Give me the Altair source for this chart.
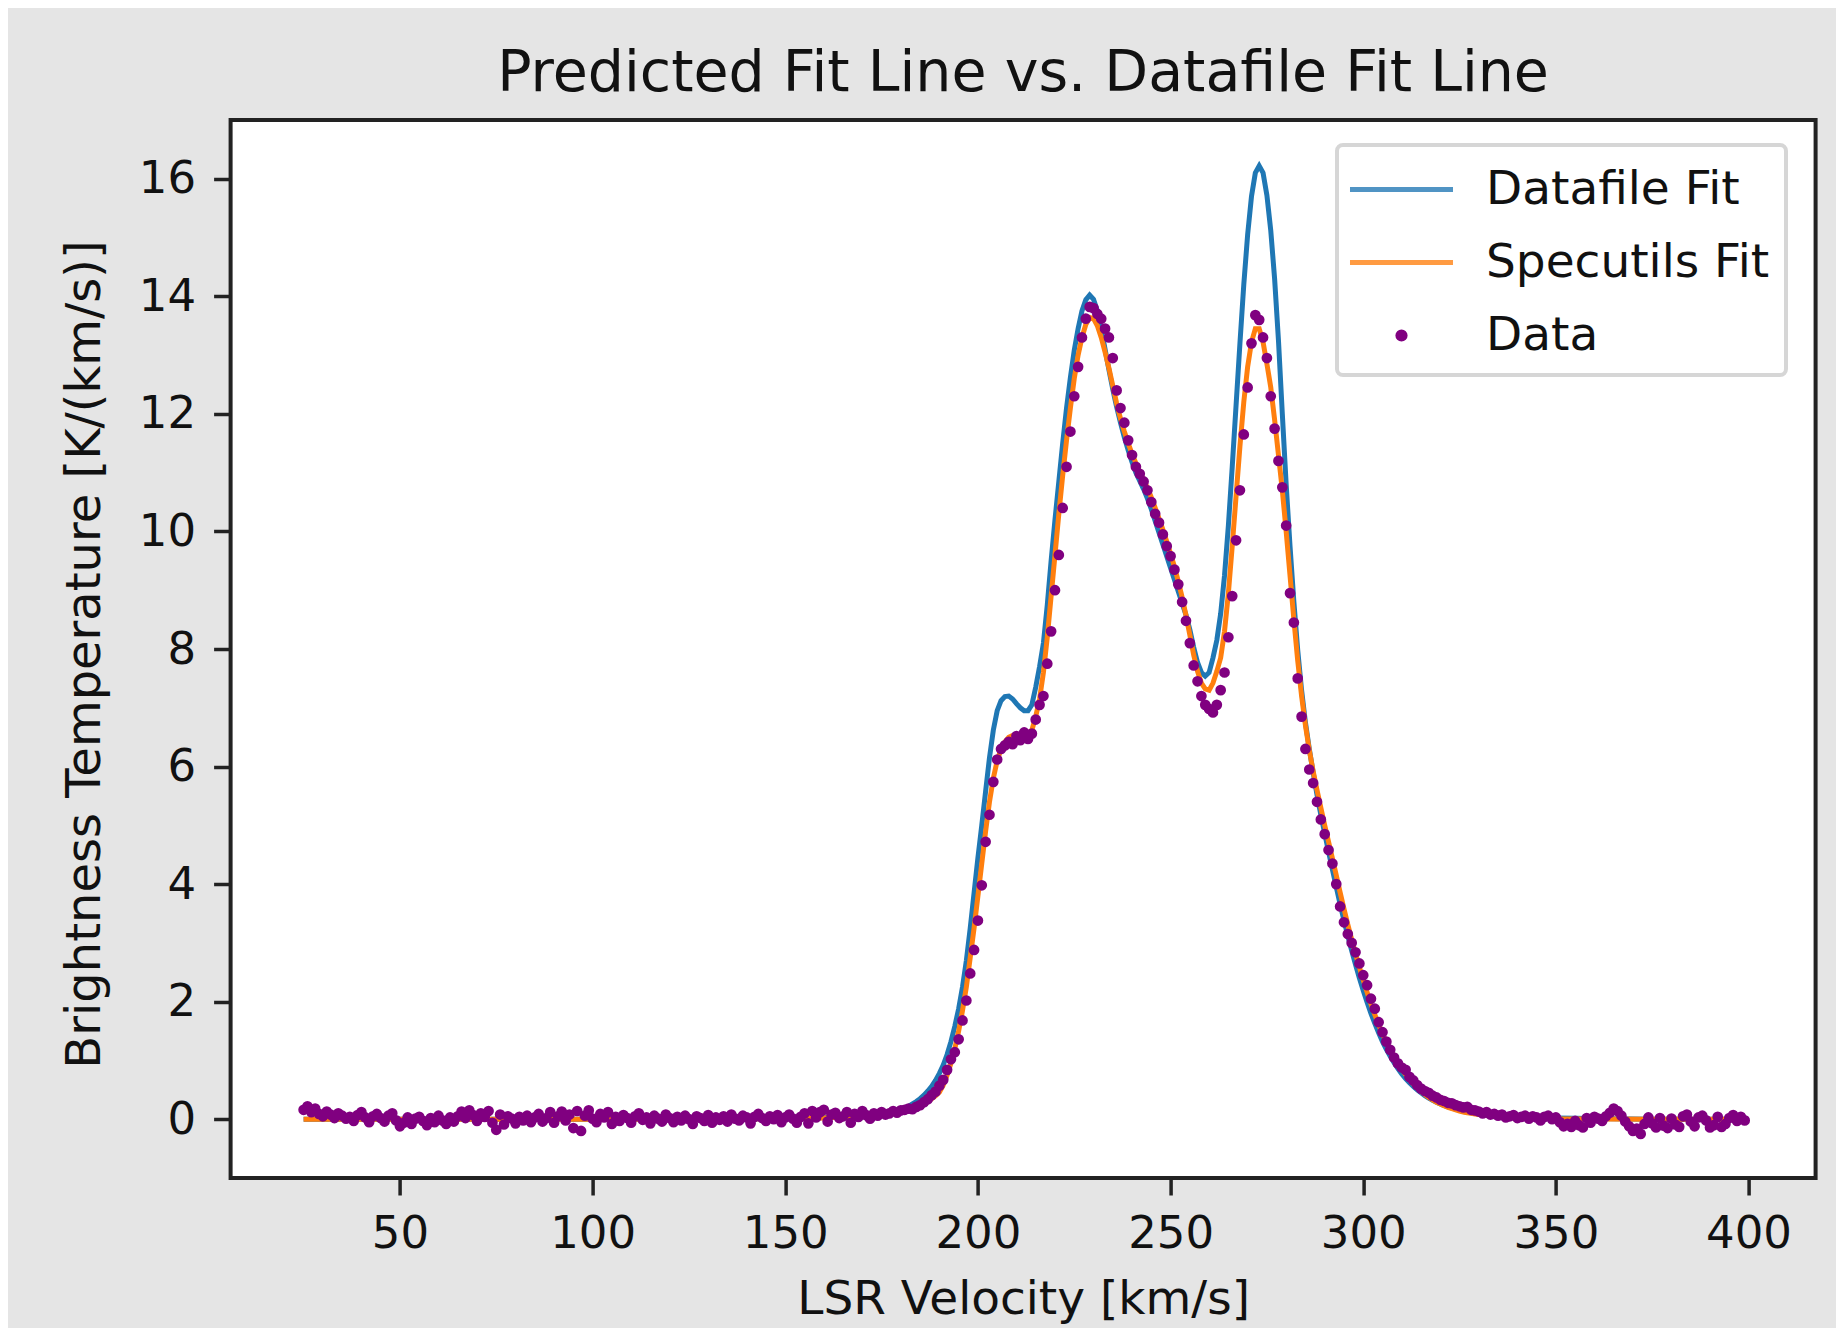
import altair as alt
import pandas as pd

FONT = "DejaVu Sans"

# ---------------- data ----------------
# channel velocities of the measured spectrum [km/s]
velocity = list(range(25, 400))

# measured brightness temperature for each channel
data_T = [
    0.16, 0.22, 0.12, 0.18, 0.09, 0.05, 0.13, 0.08, 0.02, 0.10,      # 25-34
    0.06, 0.01, 0.04, -0.03, 0.07, 0.12, 0.03, -0.05, 0.05, 0.09,    # 35-44
    0.02, -0.04, 0.06, 0.10, -0.02, -0.12, -0.06, 0.03, -0.08, 0.01, # 45-54
    0.04, -0.03, -0.10, 0.02, -0.05, 0.06, -0.02, -0.08, 0.03, -0.04,# 55-64
    0.05, 0.13, 0.02, 0.15, 0.07, -0.03, 0.10, 0.04, 0.14, -0.06,    # 65-74
    -0.18, 0.08, -0.09, 0.05, 0.01, -0.07, 0.04, -0.02, 0.06, -0.05, # 75-84
    0.03, 0.09, -0.04, 0.02, 0.12, -0.06, 0.05, 0.13, -0.02, 0.08,   # 85-94
    -0.15, 0.14, -0.20, 0.06, 0.15, 0.01, -0.05, 0.09, 0.03, 0.12,   # 95-104
    -0.08, 0.04, -0.03, 0.07, 0.02, -0.06, 0.05, 0.10, -0.01, 0.03,  # 105-114
    -0.07, 0.06, 0.01, -0.04, 0.08, 0.02, -0.05, 0.04, -0.02, 0.06,  # 115-124
    0.00, -0.08, 0.05, 0.02, -0.03, 0.07, -0.06, 0.03, -0.01, 0.05,  # 125-134
    -0.04, 0.08, 0.01, -0.02, 0.06, 0.03, -0.07, 0.04, 0.09, 0.02,   # 135-144
    -0.03, 0.05, 0.00, 0.07, -0.05, 0.03, 0.08, 0.01, -0.06, 0.04,   # 145-154
    0.10, -0.07, 0.14, 0.03, 0.12, 0.16, -0.04, 0.08, 0.11, 0.02,    # 155-164
    0.05, 0.12, -0.06, 0.09, 0.04, 0.14, 0.07, 0.01, 0.10, 0.06,     # 165-174
    0.12, 0.08, 0.10, 0.14, 0.11, 0.15, 0.16, 0.18, 0.17, 0.21,      # 175-184
    0.24, 0.29, 0.34, 0.41, 0.47, 0.57, 0.67, 0.84, 1.02, 1.14,      # 185-194
    1.36, 1.68, 2.02, 2.48, 2.88, 3.38, 3.98, 4.72, 5.18, 5.74,      # 195-204
    6.12, 6.30, 6.36, 6.42, 6.38, 6.52, 6.45, 6.58, 6.47, 6.56,      # 205-214
    6.80, 7.05, 7.20, 7.75, 8.30, 9.00, 9.60, 10.40, 11.10, 11.70,   # 215-224
    12.30, 12.80, 13.30, 13.62, 13.82, 13.80, 13.70, 13.62, 13.45, 13.30,  # 225-234
    12.95, 12.40, 12.10, 11.85, 11.55, 11.30, 11.10, 10.98, 10.85, 10.70,  # 235-244
    10.50, 10.30, 10.15, 9.95, 9.75, 9.58, 9.35, 9.10, 8.80, 8.48,   # 245-254
    8.10, 7.72, 7.45, 7.20, 7.05, 6.98, 6.92, 7.05, 7.30, 7.60,      # 255-264
    8.20, 8.90, 9.85, 10.70, 11.65, 12.45, 13.20, 13.68, 13.60, 13.30,  # 265-274
    12.95, 12.30, 11.75, 11.20, 10.75, 10.10, 8.95, 8.45, 7.50, 6.85,   # 275-284
    6.30, 5.95, 5.72, 5.40, 5.10, 4.85, 4.58, 4.35, 4.00, 3.62,      # 285-294
    3.35, 3.15, 3.00, 2.84, 2.65, 2.45, 2.28, 2.05, 1.88, 1.65,      # 295-304
    1.48, 1.32, 1.18, 1.05, 0.95, 0.88, 0.84, 0.72, 0.66, 0.58,      # 305-314
    0.52, 0.48, 0.45, 0.40, 0.37, 0.33, 0.31, 0.28, 0.27, 0.24,      # 315-324
    0.22, 0.20, 0.21, 0.16, 0.15, 0.13, 0.10, 0.12, 0.08, 0.09,      # 325-334
    0.06, 0.08, 0.03, 0.05, 0.07, 0.02, 0.04, 0.06, 0.01, 0.05,      # 335-344
    0.03, -0.02, 0.04, 0.06, 0.00, 0.03, -0.05, -0.12, -0.08, -0.13, # 345-354
    -0.03, -0.10, -0.14, 0.02, -0.06, 0.04, 0.01, -0.03, 0.05, 0.11, # 355-364
    0.18, 0.14, 0.06, -0.04, -0.12, -0.20, -0.16, -0.25, -0.08, 0.03,# 365-374
    -0.07, -0.14, 0.02, -0.11, -0.15, 0.01, -0.09, -0.13, 0.05, 0.08,# 375-384
    -0.04, -0.12, 0.03, 0.06, -0.02, -0.14, -0.10, 0.04, -0.13, -0.08,  # 385-394
    0.02, 0.07, -0.03, 0.04, -0.02,                                  # 395-399
]

# velocities at which the two fitted curves are sampled
fit_velocity = [25, 50, 75, 100, 125, 150, 160, 170, 175, 180] + list(range(181, 331)) + [340, 350, 375, 399]

datafile_fit = [
    0.0, 0.0, 0.0, 0.0, 0.0, 0.01, 0.03, 0.06, 0.10, 0.16,
    0.19, 0.22, 0.26, 0.30, 0.35, 0.41, 0.48, 0.56, 0.66, 0.78,      # 181-190
    0.92, 1.10, 1.32, 1.58, 1.88, 2.25, 2.70, 3.25, 3.85, 4.45,      # 191-200
    5.00, 5.58, 6.15, 6.62, 6.95, 7.12, 7.19, 7.20, 7.15, 7.07,      # 201-210
    7.00, 6.95, 6.95, 7.05, 7.35, 7.70, 8.10, 8.75, 9.50, 10.20,     # 211-220
    10.85, 11.50, 12.10, 12.62, 13.08, 13.45, 13.75, 13.94, 14.02, 13.95,  # 221-230
    13.75, 13.45, 13.10, 12.75, 12.42, 12.12, 11.85, 11.60, 11.38, 11.18,  # 231-240
    11.00, 10.86, 10.72, 10.56, 10.38, 10.18, 9.98, 9.78, 9.58, 9.38,      # 241-250
    9.18, 8.98, 8.78, 8.58, 8.33, 8.03, 7.77, 7.60, 7.54, 7.60,      # 251-260
    7.85, 8.15, 8.60, 9.25, 10.10, 11.10, 12.15, 13.20, 14.20, 15.05,  # 261-270
    15.70, 16.10, 16.22, 16.10, 15.72, 15.12, 14.30, 13.25, 12.00, 10.80,  # 271-280
    9.75, 8.80, 7.98, 7.30, 6.75, 6.30, 5.90, 5.52, 5.18, 4.86,      # 281-290
    4.55, 4.25, 3.95, 3.66, 3.38, 3.12, 2.87, 2.63, 2.40, 2.19,      # 291-300
    1.99, 1.80, 1.63, 1.47, 1.32, 1.19, 1.07, 0.96, 0.86, 0.77,      # 301-310
    0.69, 0.62, 0.56, 0.50, 0.45, 0.40, 0.36, 0.32, 0.29, 0.26,      # 311-320
    0.23, 0.21, 0.19, 0.17, 0.15, 0.13, 0.12, 0.11, 0.10, 0.09,      # 321-330
    0.04, 0.02, 0.0, 0.0,
]

specutils_fit = [
    0.0, 0.0, 0.0, 0.0, 0.0, 0.01, 0.02, 0.05, 0.08, 0.12,
    0.13, 0.15, 0.17, 0.19, 0.22, 0.26, 0.30, 0.35, 0.40, 0.46,      # 181-190
    0.58, 0.75, 0.95, 1.20, 1.50, 1.85, 2.25, 2.75, 3.25, 3.80,      # 191-200
    4.35, 4.90, 5.40, 5.80, 6.10, 6.30, 6.42, 6.50, 6.53, 6.53,      # 201-210
    6.51, 6.50, 6.52, 6.62, 6.85, 7.15, 7.60, 8.20, 8.90, 9.60,      # 211-220
    10.30, 10.95, 11.55, 12.10, 12.60, 13.00, 13.30, 13.52, 13.64, 13.62,  # 221-230
    13.50, 13.30, 13.05, 12.78, 12.48, 12.18, 11.92, 11.70, 11.50, 11.32,  # 231-240
    11.16, 11.02, 10.88, 10.74, 10.58, 10.40, 10.22, 10.03, 9.83, 9.62,    # 241-250
    9.40, 9.15, 8.88, 8.57, 8.24, 7.90, 7.62, 7.42, 7.32, 7.30,      # 251-260
    7.42, 7.62, 7.85, 8.30, 8.95, 9.75, 10.60, 11.45, 12.20, 12.80,  # 261-270
    13.22, 13.45, 13.45, 13.22, 12.85, 12.45, 11.90, 11.30, 10.70, 10.00,  # 271-280
    9.25, 8.50, 7.80, 7.20, 6.70, 6.28, 5.92, 5.60, 5.30, 5.00,      # 281-290
    4.72, 4.44, 4.15, 3.86, 3.58, 3.31, 3.06, 2.82, 2.59, 2.37,      # 291-300
    2.16, 1.96, 1.78, 1.61, 1.45, 1.31, 1.18, 1.06, 0.95, 0.85,      # 301-310
    0.76, 0.68, 0.60, 0.53, 0.47, 0.42, 0.37, 0.33, 0.29, 0.26,      # 311-320
    0.23, 0.20, 0.18, 0.16, 0.14, 0.12, 0.11, 0.10, 0.09, 0.08,      # 321-330
    0.03, 0.01, 0.0, 0.0,
]

series_names = ["Datafile Fit", "Specutils Fit", "Data"]
series_colors = ["#1f77b4", "#ff7f0e", "#800080"]

x_ticks = [50, 100, 150, 200, 250, 300, 350, 400]
y_ticks = [0, 2, 4, 6, 8, 10, 12, 14, 16]

# ---------------- frames ----------------
points_df = pd.DataFrame({"v": velocity, "T": data_T, "series": "Data"})
blue_df = pd.DataFrame({"v": fit_velocity, "T": datafile_fit, "series": "Datafile Fit"})
orange_df = pd.DataFrame({"v": fit_velocity, "T": specutils_fit, "series": "Specutils Fit"})

# ---------------- encodings ----------------
x_enc = alt.X(
    "v:Q",
    scale=alt.Scale(domain=[6.05, 417.4], nice=False, zero=False),
    axis=alt.Axis(
        values=x_ticks, title="LSR Velocity [km/s]", grid=False, domain=False,
        tickSize=17, tickWidth=3.5, tickColor="#222222",
        labelFontSize=45, labelFont=FONT, labelColor="#111111", labelPadding=17,
        labelFlush=False, labelOverlap=False,
        titleFontSize=47, titleFont=FONT, titleFontWeight="normal", titleColor="#111111",
        titleY=136, titleBaseline="alphabetic",
    ),
)
y_enc = alt.Y(
    "T:Q",
    scale=alt.Scale(domain=[-1, 17], nice=False, zero=False),
    axis=alt.Axis(
        values=y_ticks, title="Brightness Temperature [K/(km/s)]", grid=False, domain=False,
        tickSize=17, tickWidth=3.5, tickColor="#222222",
        labelFontSize=45, labelFont=FONT, labelColor="#111111", labelPadding=18,
        labelFlush=False, labelOverlap=False,
        titleFontSize=48, titleFont=FONT, titleFontWeight="normal", titleColor="#111111",
        titleAngle=270, titleX=-130.6, titleY=534, titleBaseline="alphabetic", titleAlign="center",
    ),
)

legend = alt.Legend(
    title=None, orient="none", legendX=1106.4, legendY=25, direction="vertical",
    symbolType={"expr": "datum.value == 'Data' ? 'M-0.14,0A0.14,0.14,0,1,1,0.14,0A0.14,0.14,0,1,1,-0.14,0Z' : 'M-2,0L2,0'"},
    symbolStrokeColor={"expr": "datum.value == 'Datafile Fit' ? '#5799c6' : datum.value == 'Specutils Fit' ? '#ffa24a' : '#800080'"},
    symbolFillColor={"expr": "datum.value == 'Data' ? '#800080' : 'transparent'"},
    symbolOpacity={"expr": "datum.value == 'Data' ? 1 : 0.78"},
    symbolSize=2652, symbolStrokeWidth=5, symbolOffset=20, labelOffset=56,
    labelFontSize=47, labelFont=FONT, labelColor="#111111", labelLimit=0,
    padding=16, rowPadding=21, fillColor="white", strokeColor="#d6d6d6", cornerRadius=6,
)
color_enc = alt.Color(
    "series:N",
    scale=alt.Scale(domain=series_names, range=series_colors),
    legend=legend,
)

blue_line = alt.Chart(blue_df).mark_line(strokeWidth=5).encode(x=x_enc, y=y_enc, color=color_enc)
orange_line = alt.Chart(orange_df).mark_line(strokeWidth=5).encode(x=x_enc, y=y_enc, color=color_enc)
dots = alt.Chart(points_df).mark_circle(size=115, opacity=1).encode(x=x_enc, y=y_enc, color=color_enc)

chart = (
    alt.layer(blue_line, orange_line, dots)
    .properties(
        width=1585,
        height=1058,
        title=alt.TitleParams(
            "Predicted Fit Line vs. Datafile Fit Line",
            fontSize=57, font=FONT, fontWeight="normal", color="#111111",
            anchor="middle", baseline="alphabetic", offset=27, dy=55,
        ),
        autosize=alt.AutoSizeParams(type="none"),
        padding={"left": 222.6, "top": 112, "right": 20, "bottom": 150},
        background="#e5e5e5",
    )
    .configure_view(stroke="#222222", strokeWidth=4, fill="white")
    .configure_legend(strokeWidth=4)
)

chart.save("out.html", embed_options={"renderer": "svg", "actions": False})
